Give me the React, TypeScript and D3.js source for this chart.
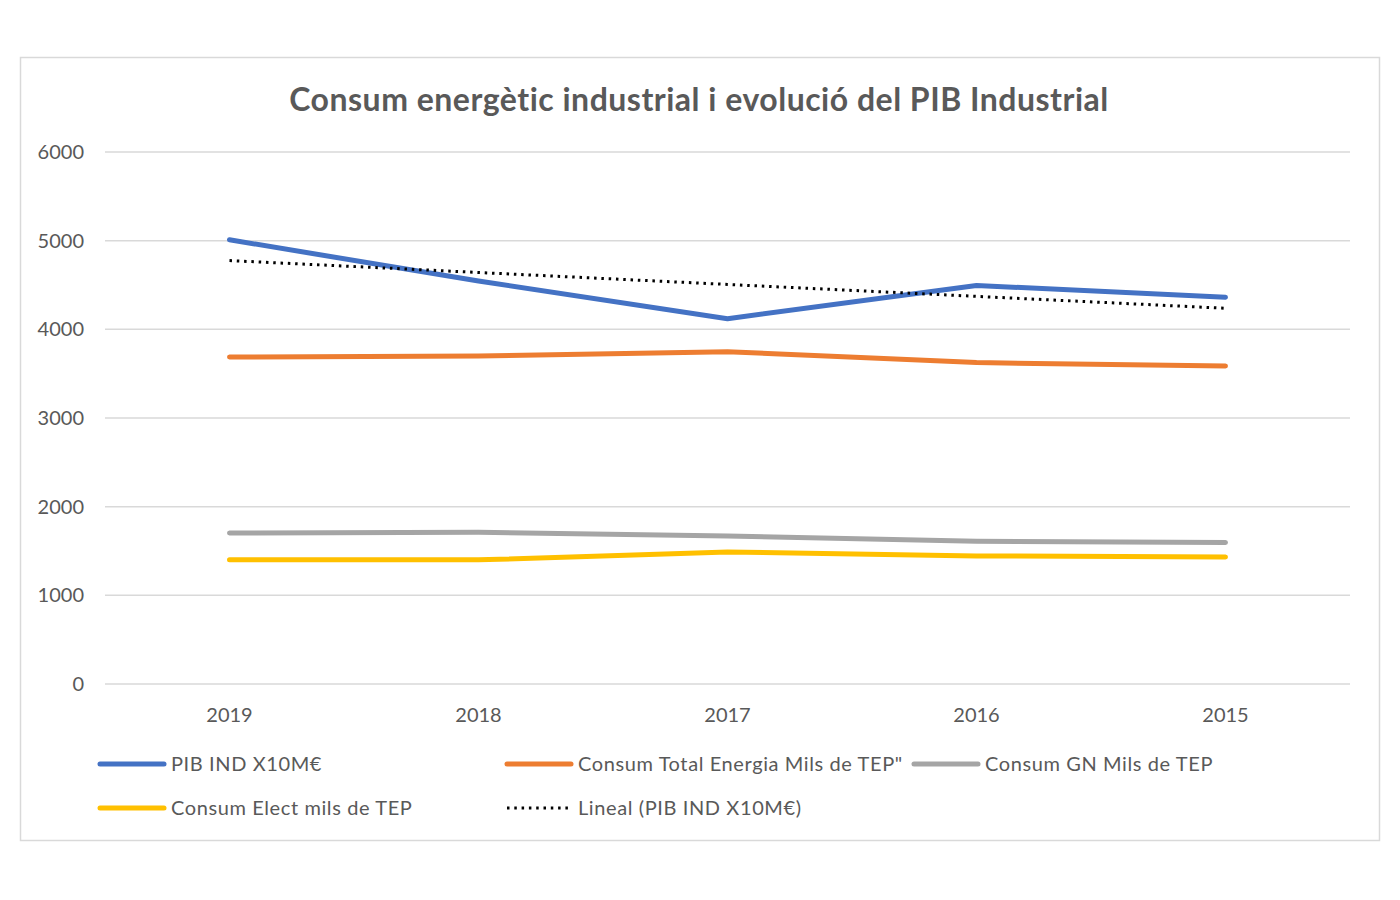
import React from "react";
import * as d3 from "d3";

const years = ["2019", "2018", "2017", "2016", "2015"];
const pib = [5010, 4545, 4120, 4495, 4362];
const totalEnergia = [3688, 3700, 3748, 3625, 3586];
const consumGN = [1702, 1712, 1670, 1610, 1597];
const consumElect = [1400, 1400, 1488, 1445, 1432];
const yTicks = [0, 1000, 2000, 3000, 4000, 5000, 6000];

const seriesNames = [
  "PIB IND X10M€",
  "Consum Total Energia Mils de TEP\"",
  "Consum GN Mils de TEP",
  "Consum Elect mils de TEP",
];
const trendName = "Lineal (PIB IND X10M€)";
const colors = ["#4472C4", "#ED7D31", "#A5A5A5", "#FFC000"];

function linReg(vals: number[]) {
  const xs = vals.map((_, i) => i);
  const mx = d3.mean(xs)!;
  const my = d3.mean(vals)!;
  let num = 0, den = 0;
  xs.forEach((x, i) => { num += (x - mx) * (vals[i] - my); den += (x - mx) ** 2; });
  const slope = num / den;
  const b = my - slope * mx;
  return xs.map((x) => b + slope * x);
}

export default function App() {
  const W = 1400, H = 900;
  const left = 105, right = 1350, top = 152, bottom = 684;
  const x = d3.scaleBand<string>().domain(years).range([left, right]);
  const y = d3.scaleLinear().domain([0, 6000]).range([bottom, top]);
  const cx = (yr: string) => (x(yr) as number) + x.bandwidth() / 2;
  const line = d3.line<number>().x((_, i) => cx(years[i])).y((v) => y(v));
  const all = [pib, totalEnergia, consumGN, consumElect];
  const trend = linReg(pib);
  const font = "Lato, 'Open Sans', sans-serif";
  const textColor = "#595959";

  const legendItems = [
    { name: seriesNames[0], color: colors[0], x: 98, y: 764, dotted: false },
    { name: seriesNames[1], color: colors[1], x: 505, y: 764, dotted: false },
    { name: seriesNames[2], color: colors[2], x: 912, y: 764, dotted: false },
    { name: seriesNames[3], color: colors[3], x: 98, y: 808, dotted: false },
    { name: trendName, color: "#000", x: 505, y: 808, dotted: true },
  ];

  return (
    <svg width={W} height={H} style={{ position: "absolute", left: 0, top: 0, background: "#fff" }}>
      <rect x={20.5} y={57.5} width={1359} height={783} fill="#fff" stroke="#d9d9d9" strokeWidth={1.5} />
      <text x={699} y={111} textAnchor="middle" fontFamily={font} fontWeight="bold" fontSize={32} letterSpacing={0.5} fill={textColor}>
        Consum energètic industrial i evolució del PIB Industrial
      </text>
      {yTicks.map((t) => (
        <g key={t}>
          <line x1={left} x2={right} y1={y(t)} y2={y(t)} stroke="#d9d9d9" strokeWidth={1.5} />
          <text x={84} y={y(t) + 7} textAnchor="end" fontFamily={font} fontSize={20} fill={textColor}>{t}</text>
        </g>
      ))}
      {years.map((yr) => (
        <text key={yr} x={cx(yr)} y={722} textAnchor="middle" fontFamily={font} fontSize={20} fill={textColor}>{yr}</text>
      ))}
      {all.map((s, i) => (
        <path key={i} d={line(s) || ""} fill="none" stroke={colors[i]} strokeWidth={5} strokeLinecap="round" strokeLinejoin="round" />
      ))}
      <path d={line(trend) || ""} fill="none" stroke="#000" strokeWidth={3} strokeDasharray="2.5 4.8" />
      {legendItems.map((it, i) => (
        <g key={i}>
          {it.dotted ? (
            <line x1={it.x + 2} x2={it.x + 66} y1={it.y} y2={it.y} stroke="#000" strokeWidth={3} strokeDasharray="2.5 4.8" />
          ) : (
            <line x1={it.x + 2} x2={it.x + 66} y1={it.y} y2={it.y} stroke={it.color} strokeWidth={5} strokeLinecap="round" />
          )}
          <text x={it.x + 73} y={it.y + 7} fontFamily={font} fontSize={20} letterSpacing={0.6} fill={textColor}>{it.name}</text>
        </g>
      ))}
    </svg>
  );
}
